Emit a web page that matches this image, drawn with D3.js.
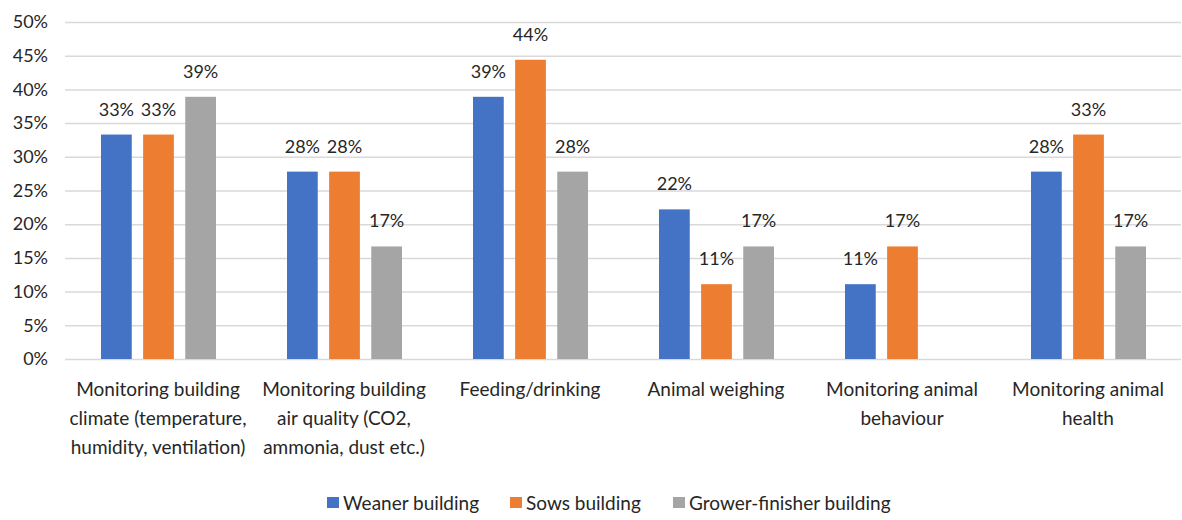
<!DOCTYPE html>
<html>
<head>
<meta charset="utf-8">
<script src="https://cdn.jsdelivr.net/npm/d3@7"></script>
<style>
  body { margin: 0; background: #fff; }
  text { font-family: Lato, "Noto Sans", sans-serif; fill: #262626; }
</style>
</head>
<body>
<script>
const categories = [
  ["Monitoring building", "climate (temperature,", "humidity, ventilation)"],
  ["Monitoring building", "air quality (CO2,", "ammonia, dust etc.)"],
  ["Feeding/drinking"],
  ["Animal weighing"],
  ["Monitoring animal", "behaviour"],
  ["Monitoring animal", "health"]
]
const seriesNames = ["Weaner building", "Sows building", "Grower-finisher building"]
const weaner = [0.333, 0.278, 0.389, 0.222, 0.111, 0.278]
const sows = [0.333, 0.278, 0.444, 0.111, 0.167, 0.333]
const grower = [0.389, 0.167, 0.278, 0.167, null, 0.167]
const colors = ["#4472C4", "#ED7D31", "#A5A5A5"]
const yTicks = [0, 0.05, 0.1, 0.15, 0.2, 0.25, 0.3, 0.35, 0.4, 0.45, 0.5]

const dims = { w: 1182, h: 520, pl: 65, pr: 1, pt: 22, pb: 161 }
const fs = 19

const svg = d3.select("body").append("svg")
  .attr("width", dims.w)
  .attr("height", dims.h)

const series = [weaner, sows, grower]

// flat list of bars, skipping missing values
const bars = []
series.forEach((vals, s) => vals.forEach((v, i) => {
  if (v != null) bars.push({ cat: i, s: s, v: v })
}))

const x = d3.scaleBand()
  .domain(d3.range(categories.length))
  .range([dims.pl, dims.w - dims.pr])

const xInner = d3.scaleBand()
  .domain(d3.range(series.length))
  .range([x.bandwidth() / 2 - 57, x.bandwidth() / 2 + 58])
  .paddingInner(0.27)

const y = d3.scaleLinear()
  .domain([0, 0.5])
  .range([dims.h - dims.pb, dims.pt])

const pct = d3.format(".0%")

// gridlines + y labels
const yAxis = d3.axisLeft(y)
  .tickValues(yTicks)
  .tickFormat(pct)
  .tickSize(-(dims.w - dims.pr - dims.pl))
  .tickPadding(17)

svg.append("g")
  .attr("transform", `translate(${dims.pl},0)`)
  .call(yAxis)
  .call(g => g.select(".domain").remove())
  .call(g => g.selectAll(".tick line").attr("stroke", "#d9d9d9").attr("stroke-width", 1.5))
  .call(g => g.selectAll(".tick text")
    .attr("font-size", 18)
    .attr("font-family", "Lato, sans-serif")
    .attr("fill", "#262626"))

// bars
svg.append("g")
  .selectAll("rect")
  .data(bars)
  .join("rect")
  .attr("x", d => x(d.cat) + xInner(d.s))
  .attr("width", xInner.bandwidth())
  .attr("y", d => y(d.v))
  .attr("height", d => y(0) - y(d.v))
  .attr("fill", d => colors[d.s])

// value labels
svg.append("g")
  .selectAll("text")
  .data(bars)
  .join("text")
  .attr("x", d => x(d.cat) + xInner(d.s) + xInner.bandwidth() / 2)
  .attr("y", d => y(d.v) - 19)
  .attr("text-anchor", "middle")
  .attr("font-size", 18)
  .text(d => pct(d.v))

// category labels
categories.forEach((lines, i) => {
  const t = svg.append("text")
    .attr("x", x(i) + x.bandwidth() / 2)
    .attr("y", 396)
    .attr("text-anchor", "middle")
    .attr("font-size", fs)
  lines.forEach((l, k) => {
    t.append("tspan")
      .attr("x", x(i) + x.bandwidth() / 2)
      .attr("dy", k === 0 ? 0 : 29)
      .text(l)
  })
})

// legend
const legendX = [327, 510, 673]
const legend = svg.append("g").attr("transform", "translate(0,503)")
seriesNames.forEach((n, s) => {
  legend.append("rect")
    .attr("x", legendX[s])
    .attr("y", -6)
    .attr("width", 12)
    .attr("height", 11)
    .attr("fill", colors[s])
  legend.append("text")
    .attr("x", legendX[s] + 16)
    .attr("y", 7)
    .attr("font-size", fs)
    .text(n)
})
</script>
</body>
</html>
